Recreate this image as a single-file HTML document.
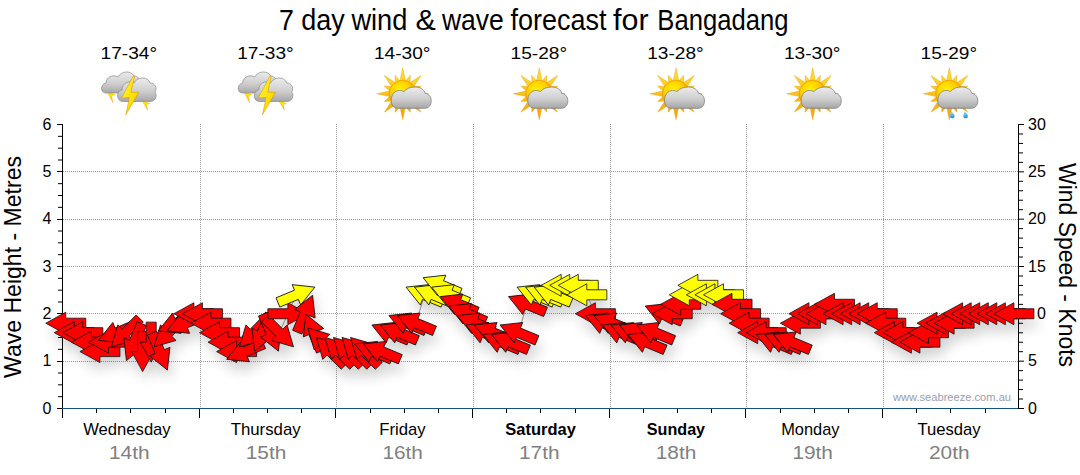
<!DOCTYPE html><html><head><meta charset="utf-8"><style>html,body{margin:0;padding:0;background:#fff;width:1080px;height:475px;overflow:hidden}svg{display:block}</style></head><body>
<svg width="1080" height="475" viewBox="0 0 1080 475" style="font-family:'Liberation Sans',sans-serif">
<defs>
<filter id="sh" x="-20%" y="-50%" width="140%" height="200%">
<feGaussianBlur in="SourceAlpha" stdDeviation="6.5"/>
<feOffset dx="3" dy="9" result="b"/>
<feComponentTransfer><feFuncA type="linear" slope="0.18"/></feComponentTransfer>
</filter>
<radialGradient id="sunG" cx="0.4" cy="0.35" r="0.7"><stop offset="0" stop-color="#fff000"/><stop offset="0.5" stop-color="#ffd000"/><stop offset="1" stop-color="#f09000"/></radialGradient>
<linearGradient id="rayG" x1="0" y1="0" x2="0" y2="1"><stop offset="0" stop-color="#ffe23a"/><stop offset="1" stop-color="#f5a000"/></linearGradient>
<linearGradient id="cloudG" x1="0" y1="0" x2="0" y2="1"><stop offset="0" stop-color="#ececec"/><stop offset="0.55" stop-color="#cfcfcf"/><stop offset="1" stop-color="#a6a6a6"/></linearGradient>
<linearGradient id="cloudG2" x1="0" y1="0" x2="0" y2="1"><stop offset="0" stop-color="#e6e6e6"/><stop offset="1" stop-color="#a8a8a8"/></linearGradient>
<linearGradient id="boltG" x1="0" y1="0" x2="1" y2="1"><stop offset="0" stop-color="#fff640"/><stop offset="0.6" stop-color="#ffe000"/><stop offset="1" stop-color="#f0b000"/></linearGradient>
<linearGradient id="boltG2" x1="0" y1="0" x2="0" y2="1"><stop offset="0" stop-color="#fff000"/><stop offset="0.5" stop-color="#ffd800"/><stop offset="1" stop-color="#f0a030"/></linearGradient>
<linearGradient id="dropG" x1="0" y1="0" x2="0" y2="1"><stop offset="0" stop-color="#9fe0ff"/><stop offset="1" stop-color="#1c8fd6"/></linearGradient>
<path id="arr" d="M20,0 L0,-11 L0,-5 L-20,-5 L-20,5 L0,5 L0,11 Z"/>
<g id="cloudS">
<path d="M-19,9 C-26,9 -26,-1 -19,-1 C-18,-8 -9,-11 -4,-7 C0,-14 12,-13 13,-4 C19,-5 22,3 17,7 C16,9 14,9 12,9 Z" fill="url(#cloudG)" stroke="#7d7d7d" stroke-width="0.8"/>
</g>
<g id="sunI">

<path d="M3.2,-11.0 L0.0,-26.0 L-3.2,-11.0 Z M7.2,-8.9 L7.7,-18.5 L1.3,-11.4 Z M10.0,-5.5 L18.4,-18.4 L5.5,-10.0 Z M11.4,-1.3 L18.5,-7.7 L8.9,-7.2 Z M11.0,3.2 L26.0,0.0 L11.0,-3.2 Z M8.9,7.2 L18.5,7.7 L11.4,1.3 Z M5.5,10.0 L18.4,18.4 L10.0,5.5 Z M1.3,11.4 L7.7,18.5 L7.2,8.9 Z M-3.2,11.0 L0.0,26.0 L3.2,11.0 Z M-7.2,8.9 L-7.7,18.5 L-1.3,11.4 Z M-10.0,5.5 L-18.4,18.4 L-5.5,10.0 Z M-11.4,1.3 L-18.5,7.7 L-8.9,7.2 Z M-11.0,-3.2 L-26.0,0.0 L-11.0,3.2 Z M-8.9,-7.2 L-18.5,-7.7 L-11.4,-1.3 Z M-5.5,-10.0 L-18.4,-18.4 L-10.0,-5.5 Z M-1.3,-11.4 L-7.7,-18.5 L-7.2,-8.9 Z" fill="url(#rayG)" stroke="#e8a000" stroke-width="0.4"/>
<circle cx="0" cy="0" r="13.5" fill="url(#sunG)" stroke="#e89000" stroke-width="0.6"/>
</g>
</defs>
<text x="279.0" y="29.8" font-size="28.6" textLength="14.9" lengthAdjust="spacingAndGlyphs" fill="#000">7</text>
<text x="301.3" y="29.8" font-size="28.6" textLength="43.5" lengthAdjust="spacingAndGlyphs" fill="#000">day</text>
<text x="351.4" y="29.8" font-size="28.6" textLength="56.0" lengthAdjust="spacingAndGlyphs" fill="#000">wind</text>
<text x="415.4" y="29.8" font-size="28.6" textLength="20.3" lengthAdjust="spacingAndGlyphs" fill="#000">&amp;</text>
<text x="441.9" y="29.8" font-size="28.6" textLength="61.9" lengthAdjust="spacingAndGlyphs" fill="#000">wave</text>
<text x="510.4" y="29.8" font-size="28.6" textLength="96.1" lengthAdjust="spacingAndGlyphs" fill="#000">forecast</text>
<text x="613.1" y="29.8" font-size="28.6" textLength="35.5" lengthAdjust="spacingAndGlyphs" fill="#000">for</text>
<text x="657.3" y="29.8" font-size="28.6" textLength="131.2" lengthAdjust="spacingAndGlyphs" fill="#000">Bangadang</text>
<text x="128.8" y="58.8" font-size="16.5" text-anchor="middle" textLength="56.5" lengthAdjust="spacingAndGlyphs" fill="#000">17-34°</text>
<text x="83.2" y="434.8" font-size="16.4" textLength="87.5" lengthAdjust="spacingAndGlyphs" fill="#000">Wednesday</text>
<text x="129.3" y="458.7" font-size="17.5" text-anchor="middle" textLength="40.5" lengthAdjust="spacingAndGlyphs" fill="#808080">14th</text>
<text x="265.5" y="58.8" font-size="16.5" text-anchor="middle" textLength="56.5" lengthAdjust="spacingAndGlyphs" fill="#000">17-33°</text>
<text x="230.7" y="434.8" font-size="16.4" textLength="70" lengthAdjust="spacingAndGlyphs" fill="#000">Thursday</text>
<text x="266.0" y="458.7" font-size="17.5" text-anchor="middle" textLength="40.5" lengthAdjust="spacingAndGlyphs" fill="#808080">15th</text>
<text x="402.2" y="58.8" font-size="16.5" text-anchor="middle" textLength="56.5" lengthAdjust="spacingAndGlyphs" fill="#000">14-30°</text>
<text x="379.2" y="434.8" font-size="16.4" textLength="46.4" lengthAdjust="spacingAndGlyphs" fill="#000">Friday</text>
<text x="402.7" y="458.7" font-size="17.5" text-anchor="middle" textLength="40.5" lengthAdjust="spacingAndGlyphs" fill="#808080">16th</text>
<text x="538.8" y="58.8" font-size="16.5" text-anchor="middle" textLength="56.5" lengthAdjust="spacingAndGlyphs" fill="#000">15-28°</text>
<text x="505.3" y="434.8" font-size="16.4" textLength="70.5" lengthAdjust="spacingAndGlyphs" font-weight="bold" fill="#000">Saturday</text>
<text x="539.3" y="458.7" font-size="17.5" text-anchor="middle" textLength="40.5" lengthAdjust="spacingAndGlyphs" fill="#808080">17th</text>
<text x="675.5" y="58.8" font-size="16.5" text-anchor="middle" textLength="56.5" lengthAdjust="spacingAndGlyphs" fill="#000">13-28°</text>
<text x="646.8" y="434.8" font-size="16.4" textLength="58.3" lengthAdjust="spacingAndGlyphs" font-weight="bold" fill="#000">Sunday</text>
<text x="676.0" y="458.7" font-size="17.5" text-anchor="middle" textLength="40.5" lengthAdjust="spacingAndGlyphs" fill="#808080">18th</text>
<text x="812.2" y="58.8" font-size="16.5" text-anchor="middle" textLength="56.5" lengthAdjust="spacingAndGlyphs" fill="#000">13-30°</text>
<text x="781.2" y="434.8" font-size="16.4" textLength="58.3" lengthAdjust="spacingAndGlyphs" fill="#000">Monday</text>
<text x="812.7" y="458.7" font-size="17.5" text-anchor="middle" textLength="40.5" lengthAdjust="spacingAndGlyphs" fill="#808080">19th</text>
<text x="948.8" y="58.8" font-size="16.5" text-anchor="middle" textLength="56.5" lengthAdjust="spacingAndGlyphs" fill="#000">15-29°</text>
<text x="917.5" y="434.8" font-size="16.4" textLength="63.2" lengthAdjust="spacingAndGlyphs" fill="#000">Tuesday</text>
<text x="949.3" y="458.7" font-size="17.5" text-anchor="middle" textLength="40.5" lengthAdjust="spacingAndGlyphs" fill="#808080">20th</text>
<g transform="translate(0.0,0)"><path d="M107,91.8 L111.5,93.3 L115.2,94.8 L111.6,95.8 L113,102.8 Z" fill="url(#boltG2)" stroke="#e0a000" stroke-width="0.3"/><path d="M142,100.8 L146.5,102.3 L150,103.6 L146.4,104.6 L147.8,110.2 Z" fill="url(#boltG2)" stroke="#e0a000" stroke-width="0.3"/><path d="M106,93 C100,93 100,84 106,83 C106,77 113,74 118,77 C121,71 131,70 134,76 C138,76 141,80 139,84 C141,87 139,93 134,93 Z" fill="url(#cloudG)" stroke="#8a8a8a" stroke-width="0.7"/><path d="M123,101.5 C116,101.5 116,91 122,90 C122,83 129,80 134,83 C137,76.5 148,76 150,83 C155,83 157.5,88 155,92 C157.5,95 156,101.5 150,101.5 Z" fill="url(#cloudG)" stroke="#8a8a8a" stroke-width="0.7"/><path d="M133,76.4 L121.6,98 L129.4,97.5 L125.8,114.8 L138.8,92.3 L131,92.3 L134.6,76.4 Z" fill="url(#boltG)" stroke="#d09000" stroke-width="0.5"/></g>
<g transform="translate(136.7,0)"><path d="M107,91.8 L111.5,93.3 L115.2,94.8 L111.6,95.8 L113,102.8 Z" fill="url(#boltG2)" stroke="#e0a000" stroke-width="0.3"/><path d="M142,100.8 L146.5,102.3 L150,103.6 L146.4,104.6 L147.8,110.2 Z" fill="url(#boltG2)" stroke="#e0a000" stroke-width="0.3"/><path d="M106,93 C100,93 100,84 106,83 C106,77 113,74 118,77 C121,71 131,70 134,76 C138,76 141,80 139,84 C141,87 139,93 134,93 Z" fill="url(#cloudG)" stroke="#8a8a8a" stroke-width="0.7"/><path d="M123,101.5 C116,101.5 116,91 122,90 C122,83 129,80 134,83 C137,76.5 148,76 150,83 C155,83 157.5,88 155,92 C157.5,95 156,101.5 150,101.5 Z" fill="url(#cloudG)" stroke="#8a8a8a" stroke-width="0.7"/><path d="M133,76.4 L121.6,98 L129.4,97.5 L125.8,114.8 L138.8,92.3 L131,92.3 L134.6,76.4 Z" fill="url(#boltG)" stroke="#d09000" stroke-width="0.5"/></g>
<g transform="translate(402.7,93.8)"><use href="#sunI"/><path d="M-4,14.5 C-9,14.5 -11.5,11.5 -11.5,6.5 C-11.5,1 -8,-3.3 -3.5,-3.3 C-1.5,-3.3 0,-2.8 1,-2.2 C4,-5.5 8,-6.8 12.5,-6.8 C18,-6.8 21.5,-4 22.5,-0.5 C26,0 28.5,3 28.5,7 C28.5,11.5 26,14.5 22,14.5 Z" fill="url(#cloudG)" stroke="#808080" stroke-width="0.8"/></g>
<g transform="translate(539.3,93.8)"><use href="#sunI"/><path d="M-4,14.5 C-9,14.5 -11.5,11.5 -11.5,6.5 C-11.5,1 -8,-3.3 -3.5,-3.3 C-1.5,-3.3 0,-2.8 1,-2.2 C4,-5.5 8,-6.8 12.5,-6.8 C18,-6.8 21.5,-4 22.5,-0.5 C26,0 28.5,3 28.5,7 C28.5,11.5 26,14.5 22,14.5 Z" fill="url(#cloudG)" stroke="#808080" stroke-width="0.8"/></g>
<g transform="translate(676.0,93.8)"><use href="#sunI"/><path d="M-4,14.5 C-9,14.5 -11.5,11.5 -11.5,6.5 C-11.5,1 -8,-3.3 -3.5,-3.3 C-1.5,-3.3 0,-2.8 1,-2.2 C4,-5.5 8,-6.8 12.5,-6.8 C18,-6.8 21.5,-4 22.5,-0.5 C26,0 28.5,3 28.5,7 C28.5,11.5 26,14.5 22,14.5 Z" fill="url(#cloudG)" stroke="#808080" stroke-width="0.8"/></g>
<g transform="translate(812.7,93.8)"><use href="#sunI"/><path d="M-4,14.5 C-9,14.5 -11.5,11.5 -11.5,6.5 C-11.5,1 -8,-3.3 -3.5,-3.3 C-1.5,-3.3 0,-2.8 1,-2.2 C4,-5.5 8,-6.8 12.5,-6.8 C18,-6.8 21.5,-4 22.5,-0.5 C26,0 28.5,3 28.5,7 C28.5,11.5 26,14.5 22,14.5 Z" fill="url(#cloudG)" stroke="#808080" stroke-width="0.8"/></g>
<g transform="translate(949.3,93.8)"><use href="#sunI"/><path d="M-4,14.5 C-9,14.5 -11.5,11.5 -11.5,6.5 C-11.5,1 -8,-3.3 -3.5,-3.3 C-1.5,-3.3 0,-2.8 1,-2.2 C4,-5.5 8,-6.8 12.5,-6.8 C18,-6.8 21.5,-4 22.5,-0.5 C26,0 28.5,3 28.5,7 C28.5,11.5 26,14.5 22,14.5 Z" fill="url(#cloudG)" stroke="#808080" stroke-width="0.8"/><path d="M2,17.5 C3.5,19 5.8,21 5.3,23 C4.8,25 1.2,25 0.8,23 C0.5,21.5 1.5,19.5 2,17.5 Z" fill="url(#dropG)"/><path d="M15.3,17.5 C16.8,19 19.1,21 18.6,23 C18.1,25 14.5,25 14.1,23 C13.8,21.5 14.8,19.5 15.3,17.5 Z" fill="url(#dropG)"/></g>
<line x1="63" x2="1018" y1="361.5" y2="361.5" stroke="#999" stroke-width="1" stroke-dasharray="1,1"/>
<line x1="63" x2="1018" y1="313.5" y2="313.5" stroke="#999" stroke-width="1" stroke-dasharray="1,1"/>
<line x1="63" x2="1018" y1="266.5" y2="266.5" stroke="#999" stroke-width="1" stroke-dasharray="1,1"/>
<line x1="63" x2="1018" y1="219.5" y2="219.5" stroke="#999" stroke-width="1" stroke-dasharray="1,1"/>
<line x1="63" x2="1018" y1="171.5" y2="171.5" stroke="#999" stroke-width="1" stroke-dasharray="1,1"/>
<line x1="200.5" x2="200.5" y1="124" y2="408" stroke="#999" stroke-width="1" stroke-dasharray="1,1"/>
<line x1="336.5" x2="336.5" y1="124" y2="408" stroke="#999" stroke-width="1" stroke-dasharray="1,1"/>
<line x1="473.5" x2="473.5" y1="124" y2="408" stroke="#999" stroke-width="1" stroke-dasharray="1,1"/>
<line x1="610.5" x2="610.5" y1="124" y2="408" stroke="#999" stroke-width="1" stroke-dasharray="1,1"/>
<line x1="746.5" x2="746.5" y1="124" y2="408" stroke="#999" stroke-width="1" stroke-dasharray="1,1"/>
<line x1="883.5" x2="883.5" y1="124" y2="408" stroke="#999" stroke-width="1" stroke-dasharray="1,1"/>
<g stroke="#000" stroke-width="1" shape-rendering="crispEdges"><line x1="62.5" x2="62.5" y1="124" y2="418" /><line x1="1018.5" x2="1018.5" y1="124" y2="409" /><line x1="57" x2="62" y1="124.5" y2="124.5"/><line x1="57" x2="62" y1="171.5" y2="171.5"/><line x1="57" x2="62" y1="219.5" y2="219.5"/><line x1="57" x2="62" y1="266.5" y2="266.5"/><line x1="57" x2="62" y1="313.5" y2="313.5"/><line x1="57" x2="62" y1="361.5" y2="361.5"/><line x1="57" x2="62" y1="408.5" y2="408.5"/><line x1="199.5" x2="199.5" y1="408" y2="418"/><line x1="335.5" x2="335.5" y1="408" y2="418"/><line x1="472.5" x2="472.5" y1="408" y2="418"/><line x1="609.5" x2="609.5" y1="408" y2="418"/><line x1="745.5" x2="745.5" y1="408" y2="418"/><line x1="882.5" x2="882.5" y1="408" y2="418"/><line x1="96.5" x2="96.5" y1="408" y2="413"/><line x1="130.5" x2="130.5" y1="408" y2="413"/><line x1="165.5" x2="165.5" y1="408" y2="413"/><line x1="233.5" x2="233.5" y1="408" y2="413"/><line x1="267.5" x2="267.5" y1="408" y2="413"/><line x1="301.5" x2="301.5" y1="408" y2="413"/><line x1="370.5" x2="370.5" y1="408" y2="413"/><line x1="404.5" x2="404.5" y1="408" y2="413"/><line x1="438.5" x2="438.5" y1="408" y2="413"/><line x1="506.5" x2="506.5" y1="408" y2="413"/><line x1="540.5" x2="540.5" y1="408" y2="413"/><line x1="575.5" x2="575.5" y1="408" y2="413"/><line x1="643.5" x2="643.5" y1="408" y2="413"/><line x1="677.5" x2="677.5" y1="408" y2="413"/><line x1="711.5" x2="711.5" y1="408" y2="413"/><line x1="780.5" x2="780.5" y1="408" y2="413"/><line x1="814.5" x2="814.5" y1="408" y2="413"/><line x1="848.5" x2="848.5" y1="408" y2="413"/><line x1="916.5" x2="916.5" y1="408" y2="413"/><line x1="950.5" x2="950.5" y1="408" y2="413"/><line x1="985.5" x2="985.5" y1="408" y2="413"/></g>
<g stroke="#000" stroke-width="1"><line x1="58" x2="62" y1="136.33" y2="136.33"/><line x1="58" x2="62" y1="148.17" y2="148.17"/><line x1="58" x2="62" y1="160.00" y2="160.00"/><line x1="58" x2="62" y1="183.67" y2="183.67"/><line x1="58" x2="62" y1="195.50" y2="195.50"/><line x1="58" x2="62" y1="207.33" y2="207.33"/><line x1="58" x2="62" y1="231.00" y2="231.00"/><line x1="58" x2="62" y1="242.83" y2="242.83"/><line x1="58" x2="62" y1="254.67" y2="254.67"/><line x1="58" x2="62" y1="278.33" y2="278.33"/><line x1="58" x2="62" y1="290.17" y2="290.17"/><line x1="58" x2="62" y1="302.00" y2="302.00"/><line x1="58" x2="62" y1="325.67" y2="325.67"/><line x1="58" x2="62" y1="337.50" y2="337.50"/><line x1="58" x2="62" y1="349.33" y2="349.33"/><line x1="58" x2="62" y1="373.00" y2="373.00"/><line x1="58" x2="62" y1="384.83" y2="384.83"/><line x1="58" x2="62" y1="396.67" y2="396.67"/><line x1="1019" x2="1024" y1="124.50" y2="124.50"/><line x1="1019" x2="1023" y1="133.97" y2="133.97"/><line x1="1019" x2="1023" y1="143.43" y2="143.43"/><line x1="1019" x2="1023" y1="152.90" y2="152.90"/><line x1="1019" x2="1023" y1="162.37" y2="162.37"/><line x1="1019" x2="1024" y1="171.83" y2="171.83"/><line x1="1019" x2="1023" y1="181.30" y2="181.30"/><line x1="1019" x2="1023" y1="190.77" y2="190.77"/><line x1="1019" x2="1023" y1="200.23" y2="200.23"/><line x1="1019" x2="1023" y1="209.70" y2="209.70"/><line x1="1019" x2="1024" y1="219.17" y2="219.17"/><line x1="1019" x2="1023" y1="228.63" y2="228.63"/><line x1="1019" x2="1023" y1="238.10" y2="238.10"/><line x1="1019" x2="1023" y1="247.57" y2="247.57"/><line x1="1019" x2="1023" y1="257.03" y2="257.03"/><line x1="1019" x2="1024" y1="266.50" y2="266.50"/><line x1="1019" x2="1023" y1="275.97" y2="275.97"/><line x1="1019" x2="1023" y1="285.43" y2="285.43"/><line x1="1019" x2="1023" y1="294.90" y2="294.90"/><line x1="1019" x2="1023" y1="304.37" y2="304.37"/><line x1="1019" x2="1024" y1="313.83" y2="313.83"/><line x1="1019" x2="1023" y1="323.30" y2="323.30"/><line x1="1019" x2="1023" y1="332.77" y2="332.77"/><line x1="1019" x2="1023" y1="342.23" y2="342.23"/><line x1="1019" x2="1023" y1="351.70" y2="351.70"/><line x1="1019" x2="1024" y1="361.17" y2="361.17"/><line x1="1019" x2="1023" y1="370.63" y2="370.63"/><line x1="1019" x2="1023" y1="380.10" y2="380.10"/><line x1="1019" x2="1023" y1="389.57" y2="389.57"/><line x1="1019" x2="1023" y1="399.03" y2="399.03"/><line x1="1019" x2="1024" y1="408.50" y2="408.50"/></g>
<line x1="62" x2="1018" y1="408.5" y2="408.5" stroke="#15517f" stroke-width="1.2" shape-rendering="crispEdges"/>
<text x="51.5" y="413.7" font-size="16" text-anchor="end" fill="#000">0</text>
<text x="51.5" y="366.4" font-size="16" text-anchor="end" fill="#000">1</text>
<text x="51.5" y="319.0" font-size="16" text-anchor="end" fill="#000">2</text>
<text x="51.5" y="271.7" font-size="16" text-anchor="end" fill="#000">3</text>
<text x="51.5" y="224.4" font-size="16" text-anchor="end" fill="#000">4</text>
<text x="51.5" y="177.0" font-size="16" text-anchor="end" fill="#000">5</text>
<text x="51.5" y="129.7" font-size="16" text-anchor="end" fill="#000">6</text>
<text x="1028" y="413.7" font-size="16" fill="#000">0</text>
<text x="1028" y="366.4" font-size="16" fill="#000">5</text>
<text x="1036.9" y="319.0" font-size="16" fill="#000">0</text>
<text x="1028" y="271.7" font-size="16" fill="#000">15</text>
<text x="1028" y="224.4" font-size="16" fill="#000">20</text>
<text x="1028" y="177.0" font-size="16" fill="#000">25</text>
<text x="1028" y="129.7" font-size="16" fill="#000">30</text>
<text transform="translate(20.5,378) rotate(-90)" font-size="23" textLength="222" lengthAdjust="spacingAndGlyphs" fill="#000">Wave Height - Metres</text>
<text transform="translate(1059,163) rotate(90)" font-size="23" textLength="204" lengthAdjust="spacingAndGlyphs" fill="#000">Wind Speed - Knots</text>
<text x="893" y="400.8" font-size="11.5" textLength="118" lengthAdjust="spacingAndGlyphs" fill="#9c9cab">www.seabreeze.com.au</text>
<g filter="url(#sh)"><use href="#arr" transform="translate(65.77,323.20) rotate(180.0)" fill="#ff0000"/><use href="#arr" transform="translate(74.31,332.67) rotate(180.0)" fill="#ff0000"/><use href="#arr" transform="translate(82.85,332.67) rotate(180.0)" fill="#ff0000"/><use href="#arr" transform="translate(91.40,342.13) rotate(180.0)" fill="#ff0000"/><use href="#arr" transform="translate(99.94,351.60) rotate(180.0)" fill="#ff0000"/><use href="#arr" transform="translate(108.48,342.13) rotate(180.0)" fill="#ff0000"/><use href="#arr" transform="translate(117.02,332.67) rotate(157.5)" fill="#ff0000"/><use href="#arr" transform="translate(125.56,332.67) rotate(135.0)" fill="#ff0000"/><use href="#arr" transform="translate(134.10,342.13) rotate(112.5)" fill="#ff0000"/><use href="#arr" transform="translate(142.65,351.60) rotate(90.0)" fill="#ff0000"/><use href="#arr" transform="translate(151.19,342.13) rotate(90.0)" fill="#ff0000"/><use href="#arr" transform="translate(159.73,351.60) rotate(67.5)" fill="#ff0000"/><use href="#arr" transform="translate(168.27,332.67) rotate(135.0)" fill="#ff0000"/><use href="#arr" transform="translate(176.81,323.20) rotate(157.5)" fill="#ff0000"/><use href="#arr" transform="translate(185.35,323.20) rotate(157.5)" fill="#ff0000"/><use href="#arr" transform="translate(193.90,313.73) rotate(180.0)" fill="#ff0000"/><use href="#arr" transform="translate(202.44,313.73) rotate(180.0)" fill="#ff0000"/><use href="#arr" transform="translate(210.98,323.20) rotate(180.0)" fill="#ff0000"/><use href="#arr" transform="translate(219.52,332.67) rotate(180.0)" fill="#ff0000"/><use href="#arr" transform="translate(228.06,342.13) rotate(180.0)" fill="#ff0000"/><use href="#arr" transform="translate(236.60,351.60) rotate(180.0)" fill="#ff0000"/><use href="#arr" transform="translate(245.15,351.60) rotate(157.5)" fill="#ff0000"/><use href="#arr" transform="translate(253.69,332.67) rotate(135.0)" fill="#ff0000"/><use href="#arr" transform="translate(262.23,332.67) rotate(112.5)" fill="#ff0000"/><use href="#arr" transform="translate(270.77,332.67) rotate(67.5)" fill="#ff0000"/><use href="#arr" transform="translate(279.31,332.67) rotate(45.0)" fill="#ff0000"/><use href="#arr" transform="translate(287.85,313.73) rotate(0.0)" fill="#ff0000"/><use href="#arr" transform="translate(296.40,294.80) rotate(337.5)" fill="#ffff00"/><use href="#arr" transform="translate(304.94,313.73) rotate(292.5)" fill="#ff0000"/><use href="#arr" transform="translate(313.48,332.67) rotate(247.5)" fill="#ff0000"/><use href="#arr" transform="translate(322.02,342.13) rotate(225.0)" fill="#ff0000"/><use href="#arr" transform="translate(330.56,351.60) rotate(225.0)" fill="#ff0000"/><use href="#arr" transform="translate(339.11,351.60) rotate(225.0)" fill="#ff0000"/><use href="#arr" transform="translate(347.65,351.60) rotate(225.0)" fill="#ff0000"/><use href="#arr" transform="translate(356.19,351.60) rotate(225.0)" fill="#ff0000"/><use href="#arr" transform="translate(364.73,351.60) rotate(225.0)" fill="#ff0000"/><use href="#arr" transform="translate(373.27,351.60) rotate(202.5)" fill="#ff0000"/><use href="#arr" transform="translate(381.81,351.60) rotate(202.5)" fill="#ff0000"/><use href="#arr" transform="translate(390.36,332.67) rotate(202.5)" fill="#ff0000"/><use href="#arr" transform="translate(398.90,332.67) rotate(202.5)" fill="#ff0000"/><use href="#arr" transform="translate(407.44,323.20) rotate(202.5)" fill="#ff0000"/><use href="#arr" transform="translate(415.98,323.20) rotate(202.5)" fill="#ff0000"/><use href="#arr" transform="translate(424.52,294.80) rotate(202.5)" fill="#ffff00"/><use href="#arr" transform="translate(433.06,294.80) rotate(202.5)" fill="#ffff00"/><use href="#arr" transform="translate(441.61,285.33) rotate(202.5)" fill="#ffff00"/><use href="#arr" transform="translate(450.15,294.80) rotate(202.5)" fill="#ffff00"/><use href="#arr" transform="translate(458.69,304.27) rotate(202.5)" fill="#ff0000"/><use href="#arr" transform="translate(467.23,313.73) rotate(202.5)" fill="#ff0000"/><use href="#arr" transform="translate(475.77,323.20) rotate(202.5)" fill="#ff0000"/><use href="#arr" transform="translate(484.31,332.67) rotate(202.5)" fill="#ff0000"/><use href="#arr" transform="translate(492.86,332.67) rotate(202.5)" fill="#ff0000"/><use href="#arr" transform="translate(501.40,342.13) rotate(202.5)" fill="#ff0000"/><use href="#arr" transform="translate(509.94,342.13) rotate(202.5)" fill="#ff0000"/><use href="#arr" transform="translate(518.48,332.67) rotate(202.5)" fill="#ff0000"/><use href="#arr" transform="translate(527.02,304.27) rotate(202.5)" fill="#ff0000"/><use href="#arr" transform="translate(535.56,294.80) rotate(202.5)" fill="#ffff00"/><use href="#arr" transform="translate(544.11,294.80) rotate(202.5)" fill="#ffff00"/><use href="#arr" transform="translate(552.65,294.80) rotate(202.5)" fill="#ffff00"/><use href="#arr" transform="translate(561.19,285.33) rotate(180.0)" fill="#ffff00"/><use href="#arr" transform="translate(569.73,285.33) rotate(180.0)" fill="#ffff00"/><use href="#arr" transform="translate(578.27,285.33) rotate(180.0)" fill="#ffff00"/><use href="#arr" transform="translate(586.81,294.80) rotate(180.0)" fill="#ffff00"/><use href="#arr" transform="translate(595.36,313.73) rotate(180.0)" fill="#ff0000"/><use href="#arr" transform="translate(603.90,323.20) rotate(202.5)" fill="#ff0000"/><use href="#arr" transform="translate(612.44,323.20) rotate(202.5)" fill="#ff0000"/><use href="#arr" transform="translate(620.98,332.67) rotate(202.5)" fill="#ff0000"/><use href="#arr" transform="translate(629.52,332.67) rotate(202.5)" fill="#ff0000"/><use href="#arr" transform="translate(638.06,332.67) rotate(202.5)" fill="#ff0000"/><use href="#arr" transform="translate(646.61,342.13) rotate(202.5)" fill="#ff0000"/><use href="#arr" transform="translate(655.15,332.67) rotate(202.5)" fill="#ff0000"/><use href="#arr" transform="translate(663.69,313.73) rotate(202.5)" fill="#ff0000"/><use href="#arr" transform="translate(672.23,313.73) rotate(180.0)" fill="#ff0000"/><use href="#arr" transform="translate(680.77,304.27) rotate(180.0)" fill="#ff0000"/><use href="#arr" transform="translate(689.31,294.80) rotate(180.0)" fill="#ffff00"/><use href="#arr" transform="translate(697.86,285.33) rotate(180.0)" fill="#ffff00"/><use href="#arr" transform="translate(706.40,294.80) rotate(180.0)" fill="#ffff00"/><use href="#arr" transform="translate(714.94,294.80) rotate(180.0)" fill="#ffff00"/><use href="#arr" transform="translate(723.48,294.80) rotate(180.0)" fill="#ffff00"/><use href="#arr" transform="translate(732.02,304.27) rotate(180.0)" fill="#ff0000"/><use href="#arr" transform="translate(740.56,313.73) rotate(180.0)" fill="#ff0000"/><use href="#arr" transform="translate(749.11,323.20) rotate(180.0)" fill="#ff0000"/><use href="#arr" transform="translate(757.65,332.67) rotate(180.0)" fill="#ff0000"/><use href="#arr" transform="translate(766.19,332.67) rotate(180.0)" fill="#ff0000"/><use href="#arr" transform="translate(774.73,342.13) rotate(202.5)" fill="#ff0000"/><use href="#arr" transform="translate(783.27,342.13) rotate(202.5)" fill="#ff0000"/><use href="#arr" transform="translate(791.82,342.13) rotate(202.5)" fill="#ff0000"/><use href="#arr" transform="translate(800.36,323.20) rotate(180.0)" fill="#ff0000"/><use href="#arr" transform="translate(808.90,313.73) rotate(180.0)" fill="#ff0000"/><use href="#arr" transform="translate(817.44,313.73) rotate(180.0)" fill="#ff0000"/><use href="#arr" transform="translate(825.98,313.73) rotate(180.0)" fill="#ff0000"/><use href="#arr" transform="translate(834.52,304.27) rotate(180.0)" fill="#ff0000"/><use href="#arr" transform="translate(843.07,313.73) rotate(180.0)" fill="#ff0000"/><use href="#arr" transform="translate(851.61,313.73) rotate(180.0)" fill="#ff0000"/><use href="#arr" transform="translate(860.15,313.73) rotate(180.0)" fill="#ff0000"/><use href="#arr" transform="translate(868.69,313.73) rotate(180.0)" fill="#ff0000"/><use href="#arr" transform="translate(877.23,313.73) rotate(180.0)" fill="#ff0000"/><use href="#arr" transform="translate(885.77,323.20) rotate(180.0)" fill="#ff0000"/><use href="#arr" transform="translate(894.32,332.67) rotate(180.0)" fill="#ff0000"/><use href="#arr" transform="translate(902.86,332.67) rotate(180.0)" fill="#ff0000"/><use href="#arr" transform="translate(911.40,342.13) rotate(180.0)" fill="#ff0000"/><use href="#arr" transform="translate(919.94,342.13) rotate(180.0)" fill="#ff0000"/><use href="#arr" transform="translate(928.48,332.67) rotate(180.0)" fill="#ff0000"/><use href="#arr" transform="translate(937.02,323.20) rotate(180.0)" fill="#ff0000"/><use href="#arr" transform="translate(945.57,323.20) rotate(180.0)" fill="#ff0000"/><use href="#arr" transform="translate(954.11,323.20) rotate(180.0)" fill="#ff0000"/><use href="#arr" transform="translate(962.65,313.73) rotate(180.0)" fill="#ff0000"/><use href="#arr" transform="translate(971.19,313.73) rotate(180.0)" fill="#ff0000"/><use href="#arr" transform="translate(979.73,313.73) rotate(180.0)" fill="#ff0000"/><use href="#arr" transform="translate(988.27,313.73) rotate(180.0)" fill="#ff0000"/><use href="#arr" transform="translate(996.82,313.73) rotate(180.0)" fill="#ff0000"/><use href="#arr" transform="translate(1005.36,313.73) rotate(180.0)" fill="#ff0000"/><use href="#arr" transform="translate(1013.90,313.73) rotate(180.0)" fill="#ff0000"/></g>
<polyline points="65.77,323.20 74.31,332.67 82.85,332.67 91.40,342.13 99.94,351.60 108.48,342.13 117.02,332.67 125.56,332.67 134.10,342.13 142.65,351.60 151.19,342.13 159.73,351.60 168.27,332.67 176.81,323.20 185.35,323.20 193.90,313.73 202.44,313.73 210.98,323.20 219.52,332.67 228.06,342.13 236.60,351.60 245.15,351.60 253.69,332.67 262.23,332.67 270.77,332.67 279.31,332.67 287.85,313.73 296.40,294.80 304.94,313.73 313.48,332.67 322.02,342.13 330.56,351.60 339.11,351.60 347.65,351.60 356.19,351.60 364.73,351.60 373.27,351.60 381.81,351.60 390.36,332.67 398.90,332.67 407.44,323.20 415.98,323.20 424.52,294.80 433.06,294.80 441.61,285.33 450.15,294.80 458.69,304.27 467.23,313.73 475.77,323.20 484.31,332.67 492.86,332.67 501.40,342.13 509.94,342.13 518.48,332.67 527.02,304.27 535.56,294.80 544.11,294.80 552.65,294.80 561.19,285.33 569.73,285.33 578.27,285.33 586.81,294.80 595.36,313.73 603.90,323.20 612.44,323.20 620.98,332.67 629.52,332.67 638.06,332.67 646.61,342.13 655.15,332.67 663.69,313.73 672.23,313.73 680.77,304.27 689.31,294.80 697.86,285.33 706.40,294.80 714.94,294.80 723.48,294.80 732.02,304.27 740.56,313.73 749.11,323.20 757.65,332.67 766.19,332.67 774.73,342.13 783.27,342.13 791.82,342.13 800.36,323.20 808.90,313.73 817.44,313.73 825.98,313.73 834.52,304.27 843.07,313.73 851.61,313.73 860.15,313.73 868.69,313.73 877.23,313.73 885.77,323.20 894.32,332.67 902.86,332.67 911.40,342.13 919.94,342.13 928.48,332.67 937.02,323.20 945.57,323.20 954.11,323.20 962.65,313.73 971.19,313.73 979.73,313.73 988.27,313.73 996.82,313.73 1005.36,313.73 1013.90,313.73" fill="none" stroke="#8c8c8c" stroke-width="1"/>
<g stroke="#111" stroke-width="0.8" stroke-linejoin="miter"><use href="#arr" transform="translate(65.77,323.20) rotate(180.0)" fill="#ff0000"/><use href="#arr" transform="translate(74.31,332.67) rotate(180.0)" fill="#ff0000"/><use href="#arr" transform="translate(82.85,332.67) rotate(180.0)" fill="#ff0000"/><use href="#arr" transform="translate(91.40,342.13) rotate(180.0)" fill="#ff0000"/><use href="#arr" transform="translate(99.94,351.60) rotate(180.0)" fill="#ff0000"/><use href="#arr" transform="translate(108.48,342.13) rotate(180.0)" fill="#ff0000"/><use href="#arr" transform="translate(117.02,332.67) rotate(157.5)" fill="#ff0000"/><use href="#arr" transform="translate(125.56,332.67) rotate(135.0)" fill="#ff0000"/><use href="#arr" transform="translate(134.10,342.13) rotate(112.5)" fill="#ff0000"/><use href="#arr" transform="translate(142.65,351.60) rotate(90.0)" fill="#ff0000"/><use href="#arr" transform="translate(151.19,342.13) rotate(90.0)" fill="#ff0000"/><use href="#arr" transform="translate(159.73,351.60) rotate(67.5)" fill="#ff0000"/><use href="#arr" transform="translate(168.27,332.67) rotate(135.0)" fill="#ff0000"/><use href="#arr" transform="translate(176.81,323.20) rotate(157.5)" fill="#ff0000"/><use href="#arr" transform="translate(185.35,323.20) rotate(157.5)" fill="#ff0000"/><use href="#arr" transform="translate(193.90,313.73) rotate(180.0)" fill="#ff0000"/><use href="#arr" transform="translate(202.44,313.73) rotate(180.0)" fill="#ff0000"/><use href="#arr" transform="translate(210.98,323.20) rotate(180.0)" fill="#ff0000"/><use href="#arr" transform="translate(219.52,332.67) rotate(180.0)" fill="#ff0000"/><use href="#arr" transform="translate(228.06,342.13) rotate(180.0)" fill="#ff0000"/><use href="#arr" transform="translate(236.60,351.60) rotate(180.0)" fill="#ff0000"/><use href="#arr" transform="translate(245.15,351.60) rotate(157.5)" fill="#ff0000"/><use href="#arr" transform="translate(253.69,332.67) rotate(135.0)" fill="#ff0000"/><use href="#arr" transform="translate(262.23,332.67) rotate(112.5)" fill="#ff0000"/><use href="#arr" transform="translate(270.77,332.67) rotate(67.5)" fill="#ff0000"/><use href="#arr" transform="translate(279.31,332.67) rotate(45.0)" fill="#ff0000"/><use href="#arr" transform="translate(287.85,313.73) rotate(0.0)" fill="#ff0000"/><use href="#arr" transform="translate(296.40,294.80) rotate(337.5)" fill="#ffff00"/><use href="#arr" transform="translate(304.94,313.73) rotate(292.5)" fill="#ff0000"/><use href="#arr" transform="translate(313.48,332.67) rotate(247.5)" fill="#ff0000"/><use href="#arr" transform="translate(322.02,342.13) rotate(225.0)" fill="#ff0000"/><use href="#arr" transform="translate(330.56,351.60) rotate(225.0)" fill="#ff0000"/><use href="#arr" transform="translate(339.11,351.60) rotate(225.0)" fill="#ff0000"/><use href="#arr" transform="translate(347.65,351.60) rotate(225.0)" fill="#ff0000"/><use href="#arr" transform="translate(356.19,351.60) rotate(225.0)" fill="#ff0000"/><use href="#arr" transform="translate(364.73,351.60) rotate(225.0)" fill="#ff0000"/><use href="#arr" transform="translate(373.27,351.60) rotate(202.5)" fill="#ff0000"/><use href="#arr" transform="translate(381.81,351.60) rotate(202.5)" fill="#ff0000"/><use href="#arr" transform="translate(390.36,332.67) rotate(202.5)" fill="#ff0000"/><use href="#arr" transform="translate(398.90,332.67) rotate(202.5)" fill="#ff0000"/><use href="#arr" transform="translate(407.44,323.20) rotate(202.5)" fill="#ff0000"/><use href="#arr" transform="translate(415.98,323.20) rotate(202.5)" fill="#ff0000"/><use href="#arr" transform="translate(424.52,294.80) rotate(202.5)" fill="#ffff00"/><use href="#arr" transform="translate(433.06,294.80) rotate(202.5)" fill="#ffff00"/><use href="#arr" transform="translate(441.61,285.33) rotate(202.5)" fill="#ffff00"/><use href="#arr" transform="translate(450.15,294.80) rotate(202.5)" fill="#ffff00"/><use href="#arr" transform="translate(458.69,304.27) rotate(202.5)" fill="#ff0000"/><use href="#arr" transform="translate(467.23,313.73) rotate(202.5)" fill="#ff0000"/><use href="#arr" transform="translate(475.77,323.20) rotate(202.5)" fill="#ff0000"/><use href="#arr" transform="translate(484.31,332.67) rotate(202.5)" fill="#ff0000"/><use href="#arr" transform="translate(492.86,332.67) rotate(202.5)" fill="#ff0000"/><use href="#arr" transform="translate(501.40,342.13) rotate(202.5)" fill="#ff0000"/><use href="#arr" transform="translate(509.94,342.13) rotate(202.5)" fill="#ff0000"/><use href="#arr" transform="translate(518.48,332.67) rotate(202.5)" fill="#ff0000"/><use href="#arr" transform="translate(527.02,304.27) rotate(202.5)" fill="#ff0000"/><use href="#arr" transform="translate(535.56,294.80) rotate(202.5)" fill="#ffff00"/><use href="#arr" transform="translate(544.11,294.80) rotate(202.5)" fill="#ffff00"/><use href="#arr" transform="translate(552.65,294.80) rotate(202.5)" fill="#ffff00"/><use href="#arr" transform="translate(561.19,285.33) rotate(180.0)" fill="#ffff00"/><use href="#arr" transform="translate(569.73,285.33) rotate(180.0)" fill="#ffff00"/><use href="#arr" transform="translate(578.27,285.33) rotate(180.0)" fill="#ffff00"/><use href="#arr" transform="translate(586.81,294.80) rotate(180.0)" fill="#ffff00"/><use href="#arr" transform="translate(595.36,313.73) rotate(180.0)" fill="#ff0000"/><use href="#arr" transform="translate(603.90,323.20) rotate(202.5)" fill="#ff0000"/><use href="#arr" transform="translate(612.44,323.20) rotate(202.5)" fill="#ff0000"/><use href="#arr" transform="translate(620.98,332.67) rotate(202.5)" fill="#ff0000"/><use href="#arr" transform="translate(629.52,332.67) rotate(202.5)" fill="#ff0000"/><use href="#arr" transform="translate(638.06,332.67) rotate(202.5)" fill="#ff0000"/><use href="#arr" transform="translate(646.61,342.13) rotate(202.5)" fill="#ff0000"/><use href="#arr" transform="translate(655.15,332.67) rotate(202.5)" fill="#ff0000"/><use href="#arr" transform="translate(663.69,313.73) rotate(202.5)" fill="#ff0000"/><use href="#arr" transform="translate(672.23,313.73) rotate(180.0)" fill="#ff0000"/><use href="#arr" transform="translate(680.77,304.27) rotate(180.0)" fill="#ff0000"/><use href="#arr" transform="translate(689.31,294.80) rotate(180.0)" fill="#ffff00"/><use href="#arr" transform="translate(697.86,285.33) rotate(180.0)" fill="#ffff00"/><use href="#arr" transform="translate(706.40,294.80) rotate(180.0)" fill="#ffff00"/><use href="#arr" transform="translate(714.94,294.80) rotate(180.0)" fill="#ffff00"/><use href="#arr" transform="translate(723.48,294.80) rotate(180.0)" fill="#ffff00"/><use href="#arr" transform="translate(732.02,304.27) rotate(180.0)" fill="#ff0000"/><use href="#arr" transform="translate(740.56,313.73) rotate(180.0)" fill="#ff0000"/><use href="#arr" transform="translate(749.11,323.20) rotate(180.0)" fill="#ff0000"/><use href="#arr" transform="translate(757.65,332.67) rotate(180.0)" fill="#ff0000"/><use href="#arr" transform="translate(766.19,332.67) rotate(180.0)" fill="#ff0000"/><use href="#arr" transform="translate(774.73,342.13) rotate(202.5)" fill="#ff0000"/><use href="#arr" transform="translate(783.27,342.13) rotate(202.5)" fill="#ff0000"/><use href="#arr" transform="translate(791.82,342.13) rotate(202.5)" fill="#ff0000"/><use href="#arr" transform="translate(800.36,323.20) rotate(180.0)" fill="#ff0000"/><use href="#arr" transform="translate(808.90,313.73) rotate(180.0)" fill="#ff0000"/><use href="#arr" transform="translate(817.44,313.73) rotate(180.0)" fill="#ff0000"/><use href="#arr" transform="translate(825.98,313.73) rotate(180.0)" fill="#ff0000"/><use href="#arr" transform="translate(834.52,304.27) rotate(180.0)" fill="#ff0000"/><use href="#arr" transform="translate(843.07,313.73) rotate(180.0)" fill="#ff0000"/><use href="#arr" transform="translate(851.61,313.73) rotate(180.0)" fill="#ff0000"/><use href="#arr" transform="translate(860.15,313.73) rotate(180.0)" fill="#ff0000"/><use href="#arr" transform="translate(868.69,313.73) rotate(180.0)" fill="#ff0000"/><use href="#arr" transform="translate(877.23,313.73) rotate(180.0)" fill="#ff0000"/><use href="#arr" transform="translate(885.77,323.20) rotate(180.0)" fill="#ff0000"/><use href="#arr" transform="translate(894.32,332.67) rotate(180.0)" fill="#ff0000"/><use href="#arr" transform="translate(902.86,332.67) rotate(180.0)" fill="#ff0000"/><use href="#arr" transform="translate(911.40,342.13) rotate(180.0)" fill="#ff0000"/><use href="#arr" transform="translate(919.94,342.13) rotate(180.0)" fill="#ff0000"/><use href="#arr" transform="translate(928.48,332.67) rotate(180.0)" fill="#ff0000"/><use href="#arr" transform="translate(937.02,323.20) rotate(180.0)" fill="#ff0000"/><use href="#arr" transform="translate(945.57,323.20) rotate(180.0)" fill="#ff0000"/><use href="#arr" transform="translate(954.11,323.20) rotate(180.0)" fill="#ff0000"/><use href="#arr" transform="translate(962.65,313.73) rotate(180.0)" fill="#ff0000"/><use href="#arr" transform="translate(971.19,313.73) rotate(180.0)" fill="#ff0000"/><use href="#arr" transform="translate(979.73,313.73) rotate(180.0)" fill="#ff0000"/><use href="#arr" transform="translate(988.27,313.73) rotate(180.0)" fill="#ff0000"/><use href="#arr" transform="translate(996.82,313.73) rotate(180.0)" fill="#ff0000"/><use href="#arr" transform="translate(1005.36,313.73) rotate(180.0)" fill="#ff0000"/><use href="#arr" transform="translate(1013.90,313.73) rotate(180.0)" fill="#ff0000"/></g>
</svg></body></html>
